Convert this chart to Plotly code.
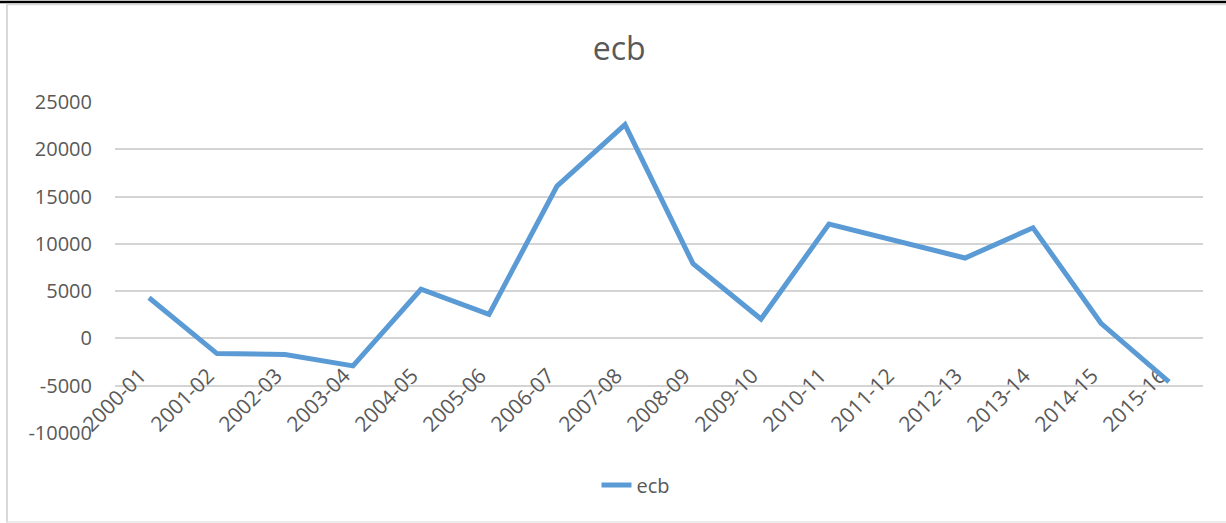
import plotly.graph_objects as go

# Fiscal years and the ecb series
years = ["2000-01", "2001-02", "2002-03", "2003-04", "2004-05", "2005-06",
         "2006-07", "2007-08", "2008-09", "2009-10", "2010-11", "2011-12",
         "2012-13", "2013-14", "2014-15", "2015-16"]
ecb = [4300, -1600, -1700, -2900, 5200, 2550, 16100, 22600, 7900, 2050,
       12100, 10300, 8500, 11700, 1600, -4600]

y_ticks = [-10000, -5000, 0, 5000, 10000, 15000, 20000, 25000]
y_range = [-10000, 25000]

W, H = 1226, 523
M_L, M_R, M_T, M_B = 115, 23, 102, 90
TEXT = "#595959"
BLUE = "#5B9BD5"
GRID = "#D4D4D4"
FONT = "Open Sans, Arial, sans-serif"


def px_to_paper(px, py):
    """Convert a pixel position on the page into paper coordinates."""
    pw = W - M_L - M_R
    ph = H - M_T - M_B
    return (px - M_L) / pw, (H - M_B - py) / ph


fig = go.Figure()
fig.add_trace(go.Scatter(
    x=years, y=ecb, mode="lines", name="ecb",
    line=dict(color=BLUE, width=5, shape="linear"),
))

# x axis sits on the zero line, labels hang below it
zero_pos = (0 - y_range[0]) / (y_range[1] - y_range[0])

lx, ly = px_to_paper(636, 485)

fig.update_layout(
    width=W, height=H,
    margin=dict(l=M_L, r=M_R, t=M_T, b=M_B, autoexpand=False),
    paper_bgcolor="white", plot_bgcolor="white",
    font=dict(family=FONT, color=TEXT, size=20),
    title=dict(text="ecb", x=0.505, xanchor="center", y=1 - 49 / H,
               yanchor="middle", font=dict(size=32, color=TEXT, family=FONT)),
    showlegend=True,
    legend=dict(orientation="h", x=lx, xanchor="center",
                y=ly, yanchor="middle",
                font=dict(size=20, color=TEXT)),
    xaxis=dict(
        type="category", anchor="free", position=zero_pos, automargin=False,
        showgrid=False, showline=False, zeroline=False, layer="below traces",
        tickangle=-45, ticks="", tickfont=dict(size=21, color=TEXT),
        ticklabelstandoff=20, ticklabelshift=-9,
        range=[-0.5, len(years) - 0.5],
    ),
    yaxis=dict(
        range=y_range, tickvals=y_ticks, ticktext=[str(v) for v in y_ticks],
        showgrid=True, gridcolor=GRID, gridwidth=1.6, automargin=False,
        zeroline=False, showline=False, ticks="",
        ticklabelstandoff=22, tickfont=dict(size=20, color=TEXT),
    ),
)

# chart frame edges
shapes = []
x0, y0 = px_to_paper(0, 2)
x1, _ = px_to_paper(W, 2)
shapes.append(dict(type="line", xref="paper", yref="paper", x0=x0, x1=x1, y0=y0, y1=y0,
                   line=dict(color="black", width=2.5)))
x0, y0 = px_to_paper(6, 4.5)
x1, _ = px_to_paper(W, 4.5)
shapes.append(dict(type="line", xref="paper", yref="paper", x0=x0, x1=x1, y0=y0, y1=y0,
                   line=dict(color="#D9D9D9", width=1.5)))
x0, y0 = px_to_paper(7, 4)
_, y1 = px_to_paper(7, H)
shapes.append(dict(type="line", xref="paper", yref="paper", x0=x0, x1=x0, y0=y0, y1=y1,
                   line=dict(color="#D9D9D9", width=2)))
x0, y0 = px_to_paper(6, 522)
x1, _ = px_to_paper(W, 522)
shapes.append(dict(type="line", xref="paper", yref="paper", x0=x0, x1=x1, y0=y0, y1=y0,
                   line=dict(color="#E6E6E6", width=1.5)))
fig.update_layout(shapes=shapes)

fig.write_html("out.html")
